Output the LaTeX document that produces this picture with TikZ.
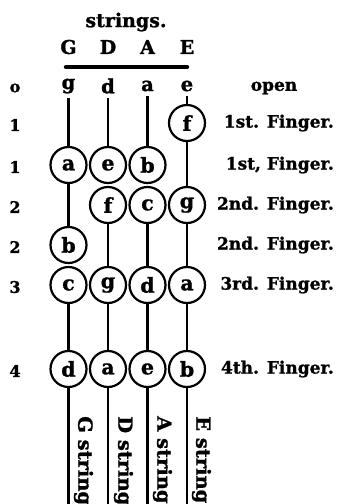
\documentclass[tikz,border=0pt]{standalone}
\usepackage{fontspec}
\setmainfont{DejaVu Serif}
\newfontfamily\hb{DejaVu Serif Bold}[FakeBold=1.2]
\tikzset{
  lbl/.style={font=\hb\fontsize{17}{20}\selectfont, inner sep=1pt},
  head/.style={font=\hb\fontsize{19}{22}\selectfont, inner sep=1pt},
  num/.style={font=\hb\fontsize{16}{18}\selectfont, inner sep=1pt},
  note/.style={circle, draw, line width=2.2pt, minimum size=36pt, inner sep=0pt,
    font=\hb\fontsize{20.5}{22}\selectfont},
  open/.style={font=\hb\fontsize{19.5}{20}\selectfont, inner sep=4pt},
  strg/.style={line width=2.2pt},
  vlbl/.style={font=\hb\fontsize{19.5}{20}\selectfont, rotate=-90, anchor=west, inner sep=0pt},
}
\begin{document}
\begin{tikzpicture}[x=1pt,y=-1pt]
\path[use as bounding box] (0,0) rectangle (341,504);
\begin{scope}
\clip (0,0) rectangle (341,504);
% header
\node[head] (hdr) at (126,22) {strings.};
\node[head] (hG) at (68.5,47) {G};
\node[head] (hD) at (108,47) {D};
\node[head] (hA) at (147.5,47) {A};
\node[head] (hE) at (187,47) {E};
\coordinate (barL) at (66,67);
\coordinate (barR) at (187,67);
\draw[line width=4.5pt, line cap=round] (barL) -- (barR);
% open strings
\node[open] (oG) at (68.5,86) {g};
\node[open] (oD) at (108,86) {d};
\node[open] (oA) at (147.5,86) {a};
\node[open] (oE) at (187,86) {e};
% notes
\node[note] (Ga) at (68.5,165) {a};
\node[note] (Gb) at (68.5,245) {b};
\node[note] (Gc) at (68.5,285) {c};
\node[note] (Gd) at (68.5,369) {d};
\node[note] (De) at (108,165) {e};
\node[note] (Df) at (108,205) {f};
\node[note] (Dg) at (108,285) {g};
\node[note] (Da) at (108,369) {a};
\node[note] (Ab) at (147.5,165) {b};
\node[note] (Ac) at (147.5,205) {c};
\node[note] (Ad) at (147.5,285) {d};
\node[note] (Ae) at (147.5,369) {e};
\node[note] (Ef) at (187,123) {f};
\node[note] (Eg) at (187,205) {g};
\node[note] (Ea) at (187,285) {a};
\node[note] (Eb) at (187,369) {b};
\coordinate (Gend) at (68.5,510);
\coordinate (Dend) at (108,510);
\coordinate (Aend) at (147.5,510);
\coordinate (Eend) at (187,510);
% strings
\draw[strg] (oG) -- (Ga);
\draw[strg] (Ga) -- (Gb);
\draw[strg] (Gc) -- (Gd);
\draw[strg] (Gd) -- (Gend);
\draw[strg] (oD) -- (De);
\draw[strg] (Df) -- (Dg);
\draw[strg] (Dg) -- (Da);
\draw[strg] (Da) -- (Dend);
\draw[strg] (oA) -- (Ab);
\draw[strg] (Ac) -- (Ad);
\draw[strg] (Ad) -- (Ae);
\draw[strg] (Ae) -- (Aend);
\draw[strg] (oE) -- (Ef);
\draw[strg] (Ef) -- (Eg);
\draw[strg] (Eg) -- (Ea);
\draw[strg] (Ea) -- (Eb);
\draw[strg] (Eb) -- (Eend);
% string names
\node[vlbl] (nG) at (83.5,416) {G string};
\node[vlbl] (nD) at (123.5,416) {D string};
\node[vlbl] (nA) at (162.5,416) {A string};
\node[vlbl] (nE) at (201.5,416) {E string};
\end{scope}
% left numbers
\node[num] (l0) at (15,88) {o};
\node[num] (l1) at (15,125) {1};
\node[num] (l2) at (15,167) {1};
\node[num] (l3) at (15,207) {2};
\node[num] (l4) at (15,247) {2};
\node[num] (l5) at (15,287) {3};
\node[num] (l6) at (15,371) {4};
% right labels
\node[lbl] (r0) at (274,88) {open};
\node[lbl, anchor=east] (r1) at (335,123) {1st. Finger.};
\node[lbl, anchor=east] (r2) at (335,165) {1st, Finger.};
\node[lbl, anchor=east] (r3) at (335,205) {2nd. Finger.};
\node[lbl, anchor=east] (r4) at (335,245) {2nd. Finger.};
\node[lbl, anchor=east] (r5) at (335,285) {3rd. Finger.};
\node[lbl, anchor=east] (r6) at (335,369) {4th. Finger.};
\end{tikzpicture}
\end{document}
